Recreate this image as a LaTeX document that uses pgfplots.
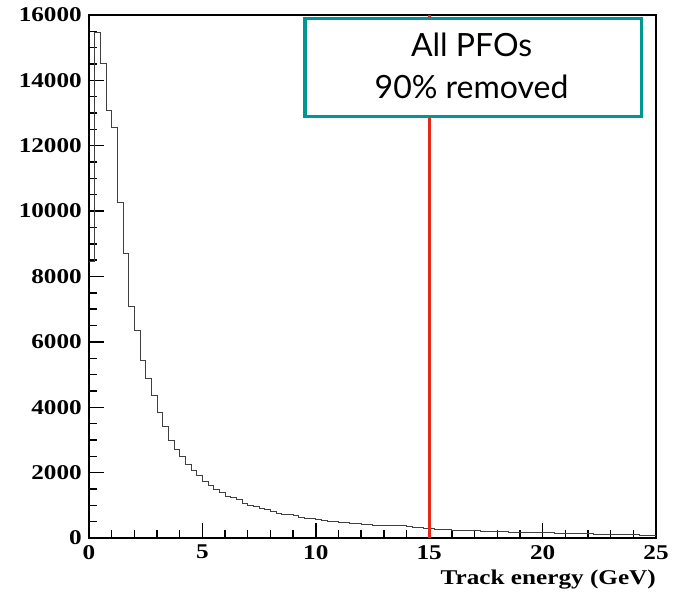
\documentclass[border=0pt]{standalone}
\usepackage{pgfplots}
\pgfplotsset{compat=1.18}
\usepackage{fontspec}
\newfontfamily\rootfont[FakeStretch=1.2]{Liberation Serif}
\newfontfamily\boxfont{Lato}
\definecolor{boxteal}{RGB}{0,150,145}
\definecolor{cutred}{RGB}{232,40,22}
\begin{document}
\begin{tikzpicture}
\begin{axis}[
  name=ax,
  scale only axis,
  width=567pt, height=523pt,
  xmin=0, xmax=25, ymin=0, ymax=16000,
  axis line style={line width=1.3pt},
  tick style={black, line width=1.4pt},
  xtick={0,5,10,15,20,25}, minor x tick num=4,
  ytick={0,2000,4000,6000,8000,10000,12000,14000,16000}, minor y tick num=3,
  tick align=inside,
  xtick pos=bottom, ytick pos=left,
  major tick length=15pt, minor tick length=8pt,
  scaled y ticks=false,
  /pgf/number format/assume math mode=true,
  /pgf/number format/1000 sep={},
  tick label style={font=\rootfont\bfseries\fontsize{21}{25}\selectfont},
  yticklabel style={inner sep=0pt, xshift=-7pt},
  xticklabel style={inner sep=0pt, yshift=-7pt},
  xlabel={Track energy (GeV)},
  xlabel style={font=\rootfont\bfseries\fontsize{21}{25}\selectfont, at={(axis description cs:1,0)}, anchor=base east, yshift=-47pt, inner sep=0pt},
]
\addplot[const plot, draw=black!75, line width=0.8pt] table {
x y
0.00 8450
0.25 15470
0.50 14520
0.75 13070
1.00 12550
1.25 10280
1.50 8710
1.75 7070
2.00 6340
2.25 5440
2.50 4870
2.75 4370
3.00 3850
3.25 3420
3.50 2975
3.75 2710
4.00 2490
4.25 2240
4.50 2060
4.75 1900
5.00 1745
5.25 1595
5.50 1490
5.75 1390
6.00 1270
6.25 1240
6.50 1180
6.75 1065
7.00 1010
7.25 960
7.50 905
7.75 875
8.00 825
8.25 755
8.50 725
8.75 735
9.00 695
9.25 640
9.50 610
9.75 590
10.00 555
10.25 540
10.50 515
10.75 500
11.00 480
11.25 470
11.50 455
11.75 445
12.00 425
12.25 415
12.50 395
12.75 385
13.00 380
13.25 375
13.50 390
13.75 395
14.00 350
14.25 330
14.50 310
14.75 300
15.00 290
15.25 270
15.50 265
15.75 255
16.00 245
16.25 240
16.50 230
16.75 225
17.00 220
17.25 215
17.50 210
17.75 200
18.00 195
18.25 190
18.50 185
18.75 180
19.00 178
19.25 175
19.50 170
19.75 165
20.00 165
20.25 160
20.50 155
20.75 150
21.00 145
21.25 140
21.50 135
21.75 130
22.00 128
22.25 125
22.50 120
22.75 115
23.00 110
23.25 108
23.50 105
23.75 100
24.00 95
24.25 90
24.50 85
24.75 75
25.00 75
};
\addplot[draw=cutred, line width=2.6pt] coordinates {(15,0) (15,16000)};
\draw[boxteal, line width=3.3pt, fill=white] (axis cs:9.52,12884) rectangle (axis cs:24.37,15893);
\node[anchor=base, inner sep=0pt, font=\boxfont\fontsize{32}{38}\selectfont] at (axis cs:16.87,14719) {All PFOs};
\node[anchor=base, inner sep=0pt, font=\boxfont\fontsize{32}{38}\selectfont] at (axis cs:16.87,13456) {90\% removed};
\end{axis}
\path (ax.south west) ++(-89pt,-58pt);
\path (ax.north east) ++(29pt,15pt);
\end{tikzpicture}
\end{document}
